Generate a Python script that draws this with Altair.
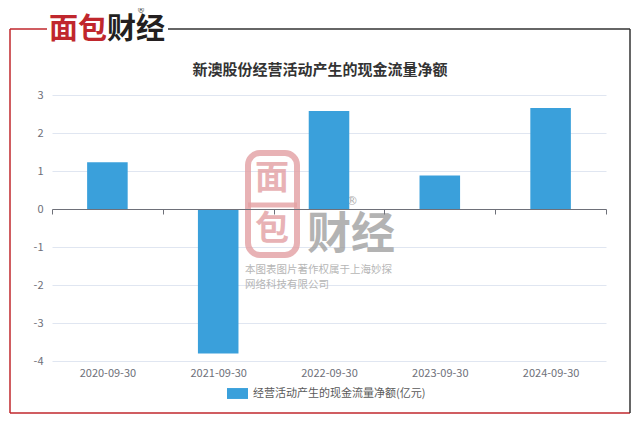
import altair as alt
import pandas as pd

# ---- data ----
dates = ["2020-09-30", "2021-09-30", "2022-09-30", "2023-09-30", "2024-09-30"]
values = [1.23, -3.80, 2.58, 0.88, 2.66]
series_name = "经营活动产生的现金流量净额(亿元)"
title_text = "新澳股份经营活动产生的现金流量净额"
y_ticks = [-4, -3, -2, -1, 0, 1, 2, 3]
logo_red = "面包"
logo_dark = "财经"
wm_line1 = "本图表图片著作权属于上海妙探"
wm_line2 = "网络科技有限公司"

df = pd.DataFrame({"date": dates, "value": values, "series": [series_name] * len(dates)})

FONT = "Noto Sans CJK SC"
BAR = "#3aa0db"
AXIS_GRAY = "#6e7079"
W, H = 554, 266
one = alt.Data(values=[{}])

bars = alt.Chart(df).mark_bar(width=alt.RelativeBandSize(0.366)).encode(
    x=alt.X(
        "date:N", sort=dates,
        scale=alt.Scale(paddingInner=0, paddingOuter=0),
        axis=alt.Axis(
            title=None, labelAngle=0, offset=-152, domainColor=AXIS_GRAY,
            tickColor=AXIS_GRAY, tickSize=5, tickBand="extent",
            labelPadding=153, labelColor=AXIS_GRAY, labelFont=FONT,
            labelFontSize=11, labelFlush=False, labelOverlap=False, zindex=1,
        ),
    ),
    y=alt.Y(
        "value:Q",
        scale=alt.Scale(domain=[-4, 3], nice=False, zero=False),
        axis=alt.Axis(
            title=None, values=y_ticks, domain=False, ticks=False,
            gridColor="#e0e6f1", labelColor=AXIS_GRAY, labelPadding=9,
            labelFont=FONT, labelFontSize=11,
            labelExpr="'' + datum.value",
        ),
    ),
    color=alt.Color(
        "series:N", scale=alt.Scale(range=[BAR]),
        legend=alt.Legend(
            title=None, orient="none", legendX=175, legendY=288,
            symbolType="M-1,-0.52L1,-0.52L1,0.52L-1,0.52Z", symbolSize=441,
            symbolStrokeWidth=0, labelFont=FONT, labelFontSize=11,
            labelColor="#5a5a5a", labelOffset=5, labelLimit=400,
        ),
    ),
)

def rule(x, y, x2=None, y2=None, color="#333333", sw=1.5, opacity=1.0):
    enc = dict(x=alt.value(x), y=alt.value(y))
    if x2 is not None:
        enc["x2"] = alt.value(x2)
    if y2 is not None:
        enc["y2"] = alt.value(y2)
    return alt.Chart(one).mark_rule(color=color, strokeWidth=sw, opacity=opacity).encode(**enc)

RED = "#c0272d"
frame = [
    rule(-42, -66, y2=318, color=RED),          # left
    rule(-42, 318, x2=578, color=RED),          # bottom
    rule(-42, -66, x2=-5, color=RED),           # top left segment
    rule(116, -66, x2=578, color="#333333"),    # top right segment
    rule(578, -66, y2=318, color="#333333"),    # right
]

def text(s, x, y, size, color, weight="normal", align="center", opacity=1.0,
         baseline="middle", font=FONT):
    return alt.Chart(one).mark_text(
        font=font, fontSize=size, fontWeight=weight, color=color,
        align=align, baseline=baseline, opacity=opacity,
    ).encode(x=alt.value(x), y=alt.value(y), text=alt.value(s))

title = text(title_text, 268, -25, 15, "#333333", weight="bold")
logo = [
    text(logo_red, 55, -65, 29, RED, weight="bold", align="right"),
    text(logo_dark, 55, -65, 29, "#231f20", weight="bold", align="left"),
    text("®", 89, -84, 8, "#444444", font="DejaVu Sans"),
]

PINK = "#e3a0a3"
wm_box = alt.Chart(one).mark_rect(
    fill="white", fillOpacity=0, stroke=PINK, strokeWidth=6, cornerRadius=12, opacity=0.8,
).encode(x=alt.value(196), x2=alt.value(245), y=alt.value(58), y2=alt.value(160))
wm_mid = rule(196, 110, x2=245, color=PINK, sw=5, opacity=0.8)
watermark = [
    wm_box, wm_mid,
    text("面", 220, 84, 34, PINK, weight="bold", opacity=0.8),
    text("包", 220, 135, 34, PINK, weight="bold", opacity=0.8),
    text(logo_dark, 299, 141, 44, "#9a9a9a", weight="bold", opacity=0.75),
    text("®", 300, 106, 12, "#9a9a9a", opacity=0.8, font="DejaVu Sans"),
    text(wm_line1, 193, 175, 10.5, "#aaaaaa", align="left", opacity=0.85),
    text(wm_line2, 193, 190, 10.5, "#aaaaaa", align="left", opacity=0.85),
]

chart = alt.layer(
    *watermark, bars, title, *logo, *frame
).properties(
    width=W, height=H,
    autosize=alt.AutoSizeParams(type="none"),
    padding={"left": 44, "top": 87, "right": 26, "bottom": 55},
    background="white",
).configure_view(stroke=None)

chart.save("out.html", embed_options={"renderer": "svg", "actions": False})
